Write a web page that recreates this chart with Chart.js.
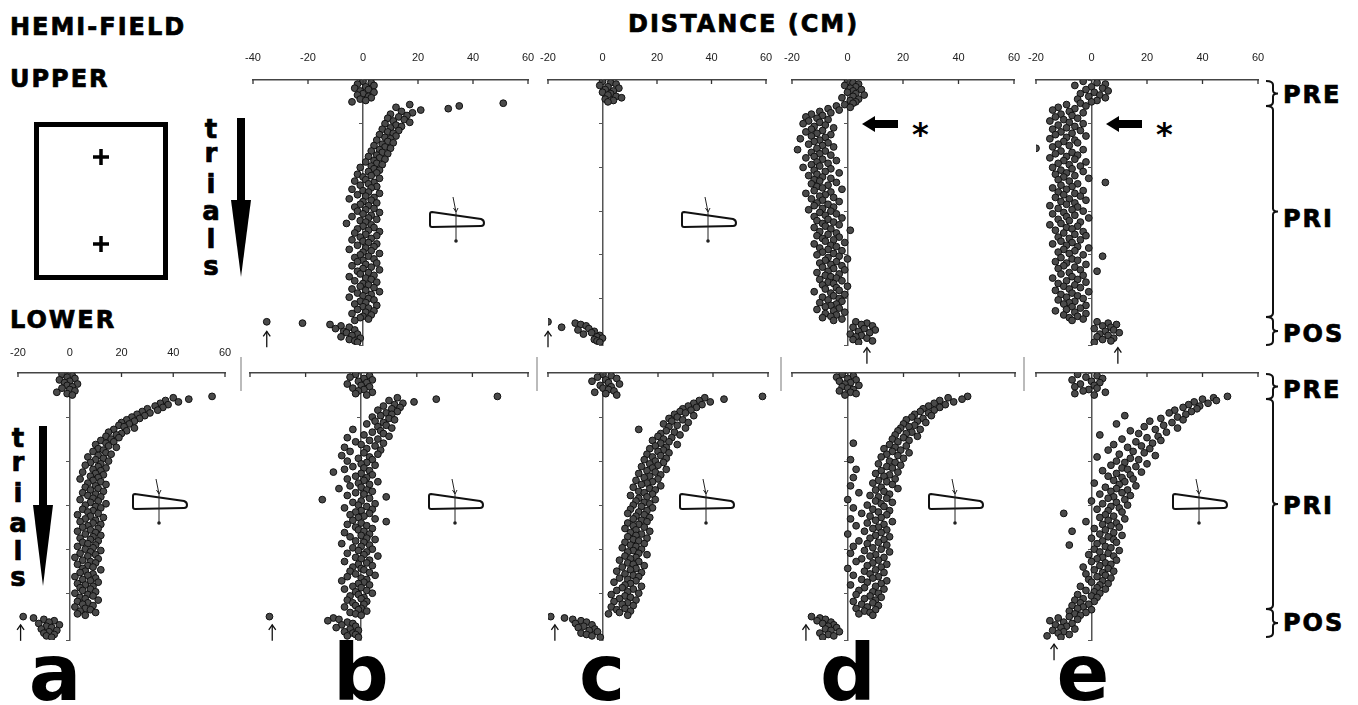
<!DOCTYPE html>
<html>
<head>
<meta charset="utf-8">
<script src="https://cdn.jsdelivr.net/npm/chart.js@4.4.1/dist/chart.umd.min.js"></script>
<style>
body { margin: 0; background: #fff; }
#wrap { position: relative; width: 1358px; height: 705px; overflow: hidden; }
#wrap canvas { position: absolute; }
#deco { position: absolute; left: 0; top: 0; }
.big { font-family: 'DejaVu Sans'; font-weight: bold; font-size: 24px; letter-spacing: 2px; fill: #000; stroke: #000; stroke-width: 0.7; }
.trl { font-family: 'DejaVu Sans'; font-weight: bold; font-size: 26px; fill: #000; stroke: #000; stroke-width: 0.7; text-anchor: middle; }
.lab { font-family: 'DejaVu Sans'; font-weight: bold; font-size: 78px; fill: #000; text-anchor: middle; }
</style>
</head>
<body>
<div id="wrap"><svg id="deco" width="1358" height="705"></svg></div>
<script>
// trial numbering: pre-exposure, prism exposure, post-exposure
const PRE_START = 1, PRI_START = 17, POS_START = 177, TRIALS_MAX = 194;

// distance (cm) per trial
const upperB_pre = [0, 3, -2, 4, 1, -3, 2, -1, 4, 0, -2, 2, 3, -1, 1, -4];
const upperB_pri = [
  51, 17, 35, 12, 31, 21, 14, 18, 10, 16,
  13, 9, 15, 11, 17, 8, 12, 14, 10, 7,
  13, 9, 11, 6, 12, 8, 10, 5, 9, 11,
  7, 4, 8, 10, 6, 3, 7, 9, 5, 2,
  6, 8, 4, 1, 5, 7, 3, -1, 4, 6,
  2, 5, -2, 3, 0, 6, 1, -3, 4, 2,
  -1, 5, 3, -4, 0, 2, 6, -2, 1, 4,
  -5, 3, 0, 5, -1, 2, -3, 4, 1, -2,
  6, 0, 3, -4, 2, 5, -1, 1, -6, 3,
  0, 4, -2, 2, 6, -3, 1, 5, -1, 3,
  -4, 0, 2, 5, -2, 4, 1, -5, 3, 0,
  6, -1, 2, -3, 4, 0, -2, 5, 1, -4,
  3, 0, 6, -2, 2, -1, 4, -5, 1, 3,
  -3, 5, 0, 2, -1, 4, -4, 1, 6, -2,
  3, 0, -5, 2, 4, -1, 1, -3, 5, 0,
  2, -2, 4, 1, -4, 3, 0, -1, 2, -3];
const upperB_pos = [-35, -22, -12, -8, -5, -10, -3, -7, -6, -2, -4, -8, -1, -5, -3, -2];

const upperC_pre = [0, 3, 5, -1, 2, 6, 1, 4, 0, 3, 2, 5, 7, 1, 4, 2];
const upperC_pri = [];
const upperC_pos = [-20, -10, -8, -6, -15, -5, -9, -3, -4, -7, -1, -2, 0, -3, -2, -1];

const upperD_pre = [0, 2, 4, -1, 3, 1, 5, 2, 0, 3, 6, 2, -2, 4, 1, 3];
const upperD_pri = [
  2, -1, -4, 1, -7, -3, -10, -6, -13, -9,
  -15, -11, -7, -14, -10, -16, -8, -12, -5, -13,
  -9, -15, -11, -6, -13, -8, -17, -10, -12, -7,
  -14, -9, -5, -11, -18, -8, -13, -10, -6, -12,
  -15, -9, -4, -11, -7, -13, -10, -16, -6, -12,
  -8, -3, -11, -14, -9, -6, -12, -10, -4, -13,
  -7, -11, -9, -2, -12, -6, -15, -8, -10, -5,
  -13, -9, -3, -11, -7, -12, -5, -9, -14, -6,
  -10, -4, -8, -12, -2, -7, -11, -5, -9, -3,
  -8, -12, -6, 1, -10, -4, -7, -11, -3, -9,
  -5, -8, -1, -12, -6, -4, -10, -7, -2, -9,
  -5, -11, -3, -7, 0, -8, -4, -10, -6, -2,
  -9, -5, -1, -7, -11, -3, -8, -6, -4, -10,
  -2, -7, -5, -9, 0, -4, -8, -3, -12, -6,
  -1, -5, -9, -3, -7, -2, -10, -4, -6, -8,
  -3, -11, -5, -1, -8, -4, -6, -9, -2, -5];
const upperD_pos = [3, 7, 5, 9, 2, 6, 10, 4, 8, 1, 5, 3, 7, 2, 9, 4];

const upperE_pre = [-3, 2, 5, -6, 0, 4, -2, 6, 1, -4, 3, -1, 5, -5, 2, 0];
const upperE_pri = [
  -4, -9, -2, -12, -6, -14, -8, -3, -11, -7,
  -13, -5, -10, -15, -8, -3, -12, -6, -9, -14,
  -4, -11, -7, -13, -2, -9, -15, -6, -10, -5,
  -12, -8, -14, -20, -3, -11, -7, -13, -5, -9,
  -15, -6, -10, -2, -12, -8, -4, -14, -7, -11,
  -3, -9, -13, -6, -10, -1, -12, -8, 5, -5,
  -11, -7, -14, -9, -3, -12, -6, -10, -4, -13,
  -8, -2, -11, -6, -9, -15, -5, -12, -7, -3,
  -10, -14, -6, -9, -1, -12, -8, -4, -11, -15,
  -5, -9, -7, -13, -3, -10, -6, -2, -12, -8,
  -4, -11, -7, -14, -9, -5, -1, -10, -6, -12,
  -8, -3, 4, -11, -7, -5, -13, -9, -2, -10,
  -6, -12, -4, 2, -8, -11, -3, -7, -14, -5,
  -9, -2, -12, -6, -10, -4, -8, -13, -1, -7,
  -11, -5, -9, -3, -12, -6, -8, -10, -2, -7,
  -4, -9, -13, -6, -2, -10, -5, -8, -3, -7];
const upperE_pos = [2, 6, 9, 4, 7, 1, 8, 5, 10, 3, 6, 2, 8, 4, 7, 1];

const lowerA_pre = [-3, 1, -1, 2, -4, 0, -2, 3, -1, 1, -3, 0, 2, -5, -1, 1];
const lowerA_pri = [
  55, 40, 46, 37, 42, 35, 38, 33, 36, 30,
  34, 28, 31, 26, 29, 24, 27, 22, 25, 20,
  23, 19, 21, 25, 17, 22, 15, 20, 18, 14,
  19, 16, 12, 17, 14, 10, 15, 18, 11, 13,
  9, 14, 16, 11, 7, 13, 10, 15, 8, 12,
  6, 11, 14, 9, 12, 5, 10, 13, 8, 11,
  4, 9, 12, 7, 14, 10, 6, 11, 8, 13,
  5, 10, 7, 12, 9, 4, 11, 8, 14, 6,
  10, 12, 5, 9, 7, 11, 3, 8, 13, 6,
  10, 4, 9, 12, 7, 5, 11, 8, 3, 10,
  6, 12, 9, 4, 8, 11, 5, 7, 10, 3,
  9, 6, 12, 8, 4, 10, 7, 2, 11, 5,
  8, 10, 3, 7, 9, 5, 12, 6, 4, 9,
  7, 2, 10, 5, 8, 11, 3, 6, 9, 4,
  8, 5, 10, 2, 7, 9, 4, 6, 11, 3,
  7, 5, 9, 2, 6, 8, 4, 10, 3, 6];
const lowerA_pos = [-18, -14, -10, -6, -8, -12, -4, -9, -7, -11, -5, -8, -10, -6, -9, -7];

const lowerB_pre = [-2, 3, -4, 1, 4, -1, 2, -5, 0, 3, -3, 1, -1, 4, -2, 2];
const lowerB_pri = [
  49, 13, 27, 10, 19, 15, 12, 8, 14, 11,
  6, 13, 9, 11, 7, 4, 10, 12, 5, 8,
  2, 9, 6, 11, -3, 7, 4, 8, 1, 10,
  -5, 6, 3, -2, 8, 0, 5, -6, 2, 7,
  -4, 1, 6, -7, 3, -1, 4, -5, 2, 0,
  5, -3, 1, -6, 3, -10, 0, 4, -2, 2,
  -5, 1, 6, -1, 3, -4, 0, -8, 2, 4,
  -2, 1, -5, 9, 3, -14, 0, -3, 5, -1,
  2, -6, 4, 0, -2, 3, -4, 1, -1, 5,
  -3, 9, 0, -5, 2, -2, 4, -1, 1, -6,
  3, 0, -4, 2, 5, -2, 1, -7, 3, 0,
  -3, 4, -1, 2, -5, 1, 6, -2, 0, 3,
  -6, 2, -1, 4, -3, 0, 1, -4, 3, -2,
  5, -5, 0, 2, -7, 1, -1, 3, -3, 0,
  -6, 2, -2, 4, -1, -4, 1, 0, -5, 2,
  -3, 1, -2, -6, 0, -1, 2, -4, -2, 0];
const lowerB_pos = [-33, -10, -8, -12, -5, -3, -7, -2, -9, -4, -1, -6, -3, -2, -5, -1];

const lowerC_pre = [0, 3, -2, 5, 1, -4, 2, 6, -1, 3, 0, 2, 4, -3, 1, 5];
const lowerC_pri = [
  58, 37, 44, 35, 39, 33, 36, 31, 34, 29,
  32, 28, 30, 26, 33, 27, 24, 29, 25, 31,
  22, 27, 24, 30, 13, 23, 26, 21, 28, 20,
  25, 22, 18, 24, 21, 27, 19, 23, 17, 22,
  20, 24, 16, 21, 18, 23, 15, 19, 22, 17,
  20, 14, 18, 23, 16, 19, 13, 21, 17, 15,
  20, 12, 18, 16, 14, 21, 11, 17, 19, 13,
  15, 18, 10, 16, 13, 19, 12, 15, 17, 11,
  14, 18, 10, 16, 13, 9, 15, 12, 17, 11,
  14, 16, 9, 13, 11, 15, 8, 12, 17, 10,
  14, 12, 9, 16, 11, 13, 8, 15, 10, 12,
  7, 14, 11, 9, 13, 16, 8, 12, 10, 6,
  13, 9, 11, 15, 7, 12, 10, 5, 14, 8,
  11, 13, 6, 9, 12, 4, 10, 8, 14, 7,
  11, 5, 9, 13, 3, 8, 10, 6, 12, 4,
  9, 7, 11, 3, 8, 5, 10, 6, 2, 9];
const lowerC_pos = [-19, -14, -11, -8, -6, -10, -4, -7, -9, -3, -5, -2, -8, -6, -4, -1];

const lowerD_pre = [-2, 2, -4, 0, 3, -3, 1, -1, 4, -2, 0, 2, -3, 1, 3, -1];
const lowerD_pri = [
  43, 36, 41, 33, 38, 31, 35, 29, 33, 27,
  31, 26, 29, 24, 30, 23, 27, 21, 25, 28,
  20, 24, 22, 19, 26, 18, 23, 21, 17, 25,
  20, 16, 22, 18, 2, 15, 21, 17, 13, 19,
  16, 22, 14, 18, 12, 20, 1, 15, 17, 11,
  19, 14, 16, 3, 12, 18, 10, 15, 13, 2,
  17, 11, 14, 9, 16, 1, 12, 18, 10, 13,
  4, 15, 8, 11, 14, 0, 10, 16, 12, 7,
  13, 2, 9, 15, 11, 5, 14, 8, 12, 1,
  10, 16, 7, 13, 3, 11, 9, 14, 6, 12,
  0, 10, 15, 8, 13, 4, 11, 7, 14, 2,
  9, 12, 6, 15, 1, 10, 8, 13, 5, 11,
  3, 9, 14, 7, 12, 0, 10, 6, 13, 8,
  2, 11, 9, 5, 14, 7, 12, 1, 10, 6,
  13, 4, 9, 11, 3, 8, 12, 6, 10, 2,
  9, 5, 11, 7, 3, 10, 6, 8, 4, 9];
const lowerD_pos = [-13, -10, -8, -11, -6, -9, -5, -7, -4, -8, -6, -3, -10, -7, -5, -9];

const lowerE_pre = [-5, 2, -2, 4, -7, 0, 3, -4, 1, -6, 2, -1, -3, 5, -6, 1];
const lowerE_pri = [
  49, 44, 40, 45, 37, 42, 35, 39, 33, 38,
  30, 36, 28, 34, 12, 31, 25, 33, 21, 29,
  9, 26, 19, 31, 23, 14, 27, 17, 3, 24,
  20, 11, 25, 16, 22, 8, 18, 13, 21, 6,
  15, 19, 10, 23, 2, 14, 17, 9, 12, 20,
  7, 16, 11, 13, 4, 18, 9, 14, 6, 11,
  15, 8, 12, 1, 10, 16, 5, 9, 13, 7,
  11, 3, 14, 8, 6, 12, 0, 9, 4, 13,
  7, 10, 2, 6, 11, -10, 5, 8, 3, 12,
  6, -2, 9, 4, 7, 10, 1, 5, -7, 8,
  3, 11, 6, 0, 8, 4, 9, 2, -8, 5,
  7, 1, 10, 3, 6, -1, 8, 4, 2, 9,
  0, 5, 7, 3, -3, 6, 1, 8, 4, -2,
  5, 2, 7, -1, 4, 0, 6, 3, -4, 2,
  5, -2, 1, 3, -5, 0, 2, -3, -6, 1,
  -4, -1, -7, -3, -5, 0, -8, -2, -6, -4];
const lowerE_pos = [-8, -12, -5, -15, -10, -7, -13, -9, -11, -6, -14, -10, -12, -8, -16, -11];

// small arrows under the post-exposure trials (distance, trial)
const arrowValues = [-35, -20, 7, 9.5, -19, -32, -17.5, -15, -13.5];
const arrowTrials = [184, 184, 196, 196, 183, 183, 183, 183, 197];

const rows = {
  upper: { top: 40, height: 330, padBottom: 25, tickPad: 7 },
  lower: { top: 333, height: 337, padBottom: 30, tickPad: 5 }
};

const panels = [
  { row: 'upper', min: -40, left: 253, right: 528, labels: true, pre: upperB_pre, pri: upperB_pri, pos: upperB_pos },
  { row: 'upper', min: -20, left: 548, right: 766, labels: true, pre: upperC_pre, pri: upperC_pri, pos: upperC_pos },
  { row: 'upper', min: -20, left: 792, right: 1014, labels: true, pre: upperD_pre, pri: upperD_pri, pos: upperD_pos },
  { row: 'upper', min: -20, left: 1036, right: 1258, labels: true, pre: upperE_pre, pri: upperE_pri, pos: upperE_pos },
  { row: 'lower', min: -20, left: 18, right: 225, labels: true, pre: lowerA_pre, pri: lowerA_pri, pos: lowerA_pos },
  { row: 'lower', min: -40, left: 250, right: 528, labels: false, pre: lowerB_pre, pri: lowerB_pri, pos: lowerB_pos },
  { row: 'lower', min: -20, left: 548, right: 768, labels: false, pre: lowerC_pre, pri: lowerC_pri, pos: lowerC_pos },
  { row: 'lower', min: -20, left: 792, right: 1015, labels: false, pre: lowerD_pre, pri: lowerD_pri, pos: lowerD_pos },
  { row: 'lower', min: -20, left: 1036, right: 1258, labels: false, pre: lowerE_pre, pri: lowerE_pri, pos: lowerE_pos }
];

// ticks hanging under the distance axis + the little "first post trial" arrow
const marksPlugin = {
  id: 'marks',
  afterDraw(chart, args, opts) {
    const ctx = chart.ctx, xs = chart.scales.x, ys = chart.scales.y, a = chart.chartArea;
    ctx.save();
    ctx.strokeStyle = '#333';
    ctx.lineWidth = 1.3;
    xs.ticks.forEach(t => {
      const px = xs.getPixelForValue(t.value);
      ctx.beginPath(); ctx.moveTo(px, a.top); ctx.lineTo(px, a.top + 4); ctx.stroke();
    });
    if (opts.x != null) {
      const px = xs.getPixelForValue(opts.x), py = ys.getPixelForValue(opts.trial);
      ctx.strokeStyle = '#111';
      ctx.beginPath(); ctx.moveTo(px, py); ctx.lineTo(px, py + 16); ctx.stroke();
      ctx.beginPath(); ctx.moveTo(px - 3.5, py + 5); ctx.lineTo(px, py); ctx.lineTo(px + 3.5, py + 5); ctx.stroke();
    }
    ctx.restore();
  }
};

const wrap = document.getElementById('wrap');

panels.forEach((p, i) => {
  const row = rows[p.row];
  const cv = document.createElement('canvas');
  cv.width = p.right - p.left + 36;
  cv.height = row.height;
  cv.style.left = (p.left - 18) + 'px';
  cv.style.top = row.top + 'px';
  wrap.appendChild(cv);

  const pts = [];
  p.pre.forEach((v, k) => pts.push({ x: v, y: PRE_START + k }));
  p.pri.forEach((v, k) => pts.push({ x: v, y: PRI_START + k }));
  p.pos.forEach((v, k) => pts.push({ x: v, y: POS_START + k }));

  new Chart(cv, {
    type: 'scatter',
    data: {
      datasets: [{
        data: pts,
        pointRadius: 3.4,
        pointBackgroundColor: '#4a4a4a',
        pointBorderColor: '#111',
        pointBorderWidth: 1
      }]
    },
    options: {
      responsive: false,
      animation: false,
      events: [],
      layout: { padding: { left: 18, right: 18, top: 0, bottom: row.padBottom } },
      plugins: {
        legend: { display: false },
        tooltip: { enabled: false },
        marks: { x: arrowValues[i], trial: arrowTrials[i] }
      },
      scales: {
        x: {
          type: 'linear',
          position: 'top',
          min: p.min,
          max: 60,
          ticks: {
            stepSize: 20,
            display: p.labels,
            padding: row.tickPad,
            color: '#222',
            font: { family: 'Liberation Sans', size: 11 }
          },
          grid: { display: false },
          border: { display: true, color: '#444', width: 1.6 },
          afterFit: s => { s.height = 40; }
        },
        y: {
          type: 'linear',
          position: { x: 0 },
          reverse: true,
          min: 0,
          max: TRIALS_MAX,
          ticks: { display: false, stepSize: 32 },
          grid: { drawOnChartArea: false, drawTicks: true, tickLength: 3, color: '#555' },
          border: { display: true, color: '#555', width: 1.5 }
        }
      }
    },
    plugins: [marksPlugin]
  });
});

// labels, brackets, and the little drawings round the panels
function bracket(y1, y2) {
  const ym = (y1 + y2) / 2, x0 = 1266, x1 = 1273, x2 = 1278;
  return `<path d="M${x0},${y1} Q${x1},${y1} ${x1},${y1 + 4} L${x1},${ym - 3} Q${x1},${ym} ${x2},${ym} Q${x1},${ym} ${x1},${ym + 3} L${x1},${y2 - 4} Q${x1},${y2} ${x0},${y2}" fill="none" stroke="#111" stroke-width="2"/>`;
}
function wedge(lx, ty) {
  return `<path d="M${lx - 26},${ty + 2} Q${lx - 26},${ty} ${lx - 24},${ty} L${lx + 25},${ty + 7} Q${lx + 28},${ty + 8} ${lx + 28},${ty + 11} Q${lx + 28},${ty + 14} ${lx + 25},${ty + 14} L${lx - 24},${ty + 15} Q${lx - 26},${ty + 15} ${lx - 26},${ty + 13} Z" fill="#fff" stroke="#111" stroke-width="2"/>` +
    `<line x1="${lx - 3}" y1="${ty - 15}" x2="${lx}" y2="${ty}" stroke="#222" stroke-width="1"/>` +
    `<path d="M${lx - 2.5},${ty - 4} L${lx},${ty} L${lx + 2},${ty - 4}" fill="none" stroke="#222" stroke-width="1"/>` +
    `<line x1="${lx}" y1="${ty}" x2="${lx}" y2="${ty + 28}" stroke="#222" stroke-width="1"/>` +
    `<circle cx="${lx}" cy="${ty + 29}" r="1.8" fill="#222"/>`;
}
function leftArrow(tip, y) {
  return `<polygon points="${tip},${y} ${tip + 13},${y - 8} ${tip + 13},${y - 4} ${tip + 36},${y - 4} ${tip + 36},${y + 4} ${tip + 13},${y + 4} ${tip + 13},${y + 8}" fill="#000"/>`;
}
function trialsArrow(x, y1, y2, y3) {
  return `<rect x="${x - 4}" y="${y1}" width="8" height="${y2 - y1 + 2}" fill="#000"/>` +
    `<polygon points="${x - 10},${y2} ${x + 10},${y2} ${x},${y3}" fill="#000"/>`;
}
function trialsWord(x, ys) {
  return 'trials'.split('').map((c, k) => `<text class="trl" x="${x}" y="${ys[k]}">${c}</text>`).join('');
}

let s = '';
s += '<text class="big" x="10" y="35">HEMI-FIELD</text>';
s += '<text class="big" x="10" y="87">UPPER</text>';
s += '<text class="big" x="10" y="328">LOWER</text>';
s += '<text class="big" x="628" y="32">DISTANCE (CM)</text>';
[['PRE', 103], ['PRI', 227], ['POS', 342], ['PRE', 398], ['PRI', 514], ['POS', 631]].forEach(t => {
  s += `<text class="big" x="1283" y="${t[1]}">${t[0]}</text>`;
});
s += bracket(81, 106) + bracket(106, 317) + bracket(317, 345);
s += bracket(374, 399) + bracket(399, 609) + bracket(609, 637);
// target box
s += '<rect x="36.5" y="124.5" width="129" height="153" fill="none" stroke="#000" stroke-width="5"/>';
s += '<path d="M93,157 H109 M101,149 V165 M93,244 H109 M101,236 V252" stroke="#000" stroke-width="3.5"/>';
s += trialsWord(211, [138, 162, 193, 220, 248, 275]) + trialsArrow(241, 118, 200, 277);
s += trialsWord(18, [447, 471, 502, 532, 560, 586]) + trialsArrow(43, 426, 505, 586);
s += wedge(456, 212) + wedge(708, 212);
s += wedge(159, 494) + wedge(455, 494) + wedge(706, 494) + wedge(955, 494) + wedge(1199, 494);
s += leftArrow(862, 124) + '<text x="912" y="145" style="font-family:DejaVu Sans;font-weight:bold;font-size:32px">*</text>';
s += leftArrow(1106, 124) + '<text x="1156" y="145" style="font-family:DejaVu Sans;font-weight:bold;font-size:32px">*</text>';
[241, 537, 781, 1024].forEach(x => {
  s += `<line x1="${x}" y1="357" x2="${x}" y2="391" stroke="#bbb" stroke-width="2"/>`;
});
[['a', 55], ['b', 361], ['c', 602], ['d', 848], ['e', 1083]].forEach(t => {
  s += `<text class="lab" x="${t[1]}" y="700">${t[0]}</text>`;
});
document.getElementById('deco').innerHTML = s;
</script>
</body>
</html>
